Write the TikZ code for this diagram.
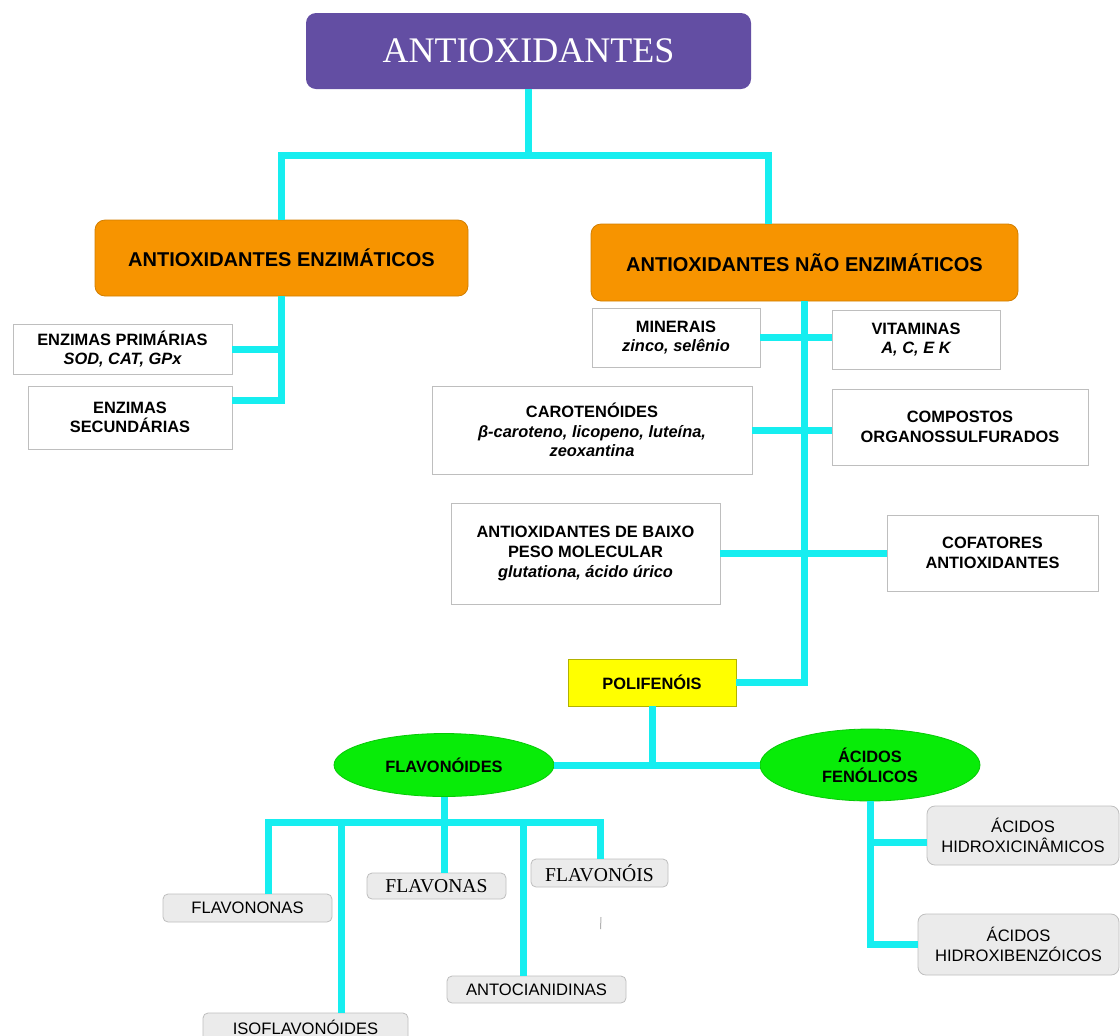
\documentclass[tikz,border=0pt]{standalone}
\usepackage{fontspec}
\setmainfont{Liberation Sans}
\newfontfamily\serifont{Liberation Serif}
\usetikzlibrary{shapes.geometric}
\definecolor{linkcyan}{RGB}{22,238,240}
\definecolor{titlepurple}{RGB}{99,78,163}
\definecolor{headorange}{RGB}{247,148,0}
\definecolor{polyellow}{RGB}{255,255,0}
\definecolor{blobgreen}{RGB}{8,236,8}
\definecolor{boxgray}{RGB}{190,190,190}
\definecolor{leafgray}{RGB}{235,235,235}
\begin{document}
\begin{tikzpicture}[
    x=0.5pt, y=-0.5pt,
    link/.style={draw=linkcyan, line width=3.5pt},
    head/.style={rectangle, rounded corners=5pt, fill=headorange, draw=headorange!85!black,
      font=\bfseries\fontsize{10}{12}\selectfont, inner sep=0pt},
    sub/.style={rectangle, draw=boxgray, fill=white, align=center,
      font=\bfseries\fontsize{8.2}{9.8}\selectfont, inner sep=0pt},
    leaf/.style={rectangle, rounded corners=2.5pt, draw=boxgray, fill=leafgray, align=center,
      font=\fontsize{8.3}{10}\selectfont, inner sep=0pt},
    blob/.style={ellipse, fill=blobgreen, draw=blobgreen!85!black, align=center,
      font=\bfseries\fontsize{8.2}{9.8}\selectfont, inner sep=0pt}
  ]
  \useasboundingbox (0,0) rectangle (1120,1035);

  \node[rectangle, rounded corners=5pt, fill=titlepurple, text=white, inner sep=0pt,
    minimum width=222.5pt, minimum height=38pt, font=\serifont\fontsize{18}{21}\selectfont]
    (title) at (528.5,51) {ANTIOXIDANTES};

  \node[head, minimum width=186.5pt, minimum height=38pt] (enz) at (281.5,258) {ANTIOXIDANTES ENZIMÁTICOS};
  \node[head, minimum width=213.5pt, minimum height=38.5pt] (naoenz) at (804.5,262.5) {ANTIOXIDANTES NÃO ENZIMÁTICOS};

  \node[sub, minimum width=109.5pt, minimum height=25pt] (prim) at (122.5,349) {ENZIMAS PRIMÁRIAS\\{\itshape SOD, CAT, GPx}};
  \node[sub, minimum width=102pt, minimum height=31.5pt] (sec) at (130,417.5) {ENZIMAS\\SECUNDÁRIAS};

  \node[sub, minimum width=84pt, minimum height=29.5pt] (min) at (676,337.5) {MINERAIS\\{\itshape zinco, selênio}};
  \node[sub, minimum width=84pt, minimum height=29.5pt] (vit) at (916,339.5) {VITAMINAS\\{\itshape A, C, E K}};
  \node[sub, minimum width=160pt, minimum height=44pt] (carot) at (592,430) {CAROTENÓIDES\\{\itshape β-caroteno, licopeno, luteína,}\\{\itshape zeoxantina}};
  \node[sub, minimum width=128pt, minimum height=38pt] (comp) at (960,427) {COMPOSTOS\\ORGANOSSULFURADOS};
  \node[sub, minimum width=134.5pt, minimum height=50.5pt] (baixo) at (585.5,553.5) {ANTIOXIDANTES DE BAIXO\\PESO MOLECULAR\\{\itshape glutationa, ácido úrico}};
  \node[sub, minimum width=105.5pt, minimum height=38pt] (cof) at (992.5,553) {COFATORES\\ANTIOXIDANTES};

  \node[sub, fill=polyellow, draw=polyellow!70!black, minimum width=84pt, minimum height=23.5pt] (polif) at (652,682.5) {POLIFENÓIS};

  \node[blob, minimum width=110pt, minimum height=31.5pt] (flav) at (444,765) {FLAVONÓIDES};
  \node[blob, minimum width=110pt, minimum height=36pt] (acid) at (870,765) {ÁCIDOS\\FENÓLICOS};

  \node[leaf, minimum width=84.5pt, minimum height=14pt] (flavona) at (247.5,908) {FLAVONONAS};
  \node[leaf, minimum width=102.5pt, minimum height=14pt] (isoflav) at (305.5,1027) {ISOFLAVONÓIDES};
  \node[leaf, minimum width=69.5pt, minimum height=13pt, font=\serifont\fontsize{9.8}{11}\selectfont] (flavonas) at (436.5,886) {FLAVONAS};
  \node[leaf, minimum width=89.5pt, minimum height=13.5pt] (antoc) at (536.5,989.5) {ANTOCIANIDINAS};
  \node[leaf, minimum width=68.5pt, minimum height=14pt, font=\serifont\fontsize{9.8}{11}\selectfont] (flavonol) at (599.5,873) {FLAVONÓIS};

  \node[leaf, rounded corners=4pt, minimum width=96pt, minimum height=29.5pt] (hcin) at (1023,835.5) {ÁCIDOS\\HIDROXICINÂMICOS};
  \node[leaf, rounded corners=4pt, minimum width=100.5pt, minimum height=30.5pt] (hbenz) at (1018.5,944.5) {ÁCIDOS\\HIDROXIBENZÓICOS};

  \coordinate (top) at (768,155);
  \draw[link] (title.south) -- (title.south |- top);
  \draw[link] (enz.north) |- (top) -- (top |- naoenz.north);

  \coordinate (e2) at (0,400);
  \draw[link] (enz.south) |- (sec.east |- e2);
  \draw[link] (prim.east) -- (prim.east -| enz.south);

  \draw[link] (naoenz.south) |- (polif.east);
  \draw[link] (min.east) -- (min.east -| vit.west);
  \draw[link] (carot.east) -- (carot.east -| comp.west);
  \draw[link] (baixo.east) -- (baixo.east -| cof.west);

  \draw[link] (polif.south) -- (polif.south |- flav.east);
  \draw[link] (flav.east) -- (acid.west);

  \coordinate (f1) at (268,822);
  \coordinate (f2) at (341,822);
  \coordinate (f4) at (523,822);
  \coordinate (f5) at (600,822);
  \draw[link] (flav.south) -- (flav.south |- f1);
  \draw[link] (f1 |- flavona.north) -- (f1) -- (f5) -- (f5 |- flavonol.north);
  \draw[link] (f2) -- (f2 |- isoflav.north);
  \draw[link] (flav.south |- f1) -- (flav.south |- flavonas.north);
  \draw[link] (f4) -- (f4 |- antoc.north);

  \coordinate (a1) at (0,842);
  \draw[link] (acid.south) |- (hbenz.west);
  \draw[link] (hcin.west |- a1) -- (acid.south |- a1);

  \draw[gray!60, line width=0.5pt] (601,917) -- (600.5,929);
\end{tikzpicture}
\end{document}
